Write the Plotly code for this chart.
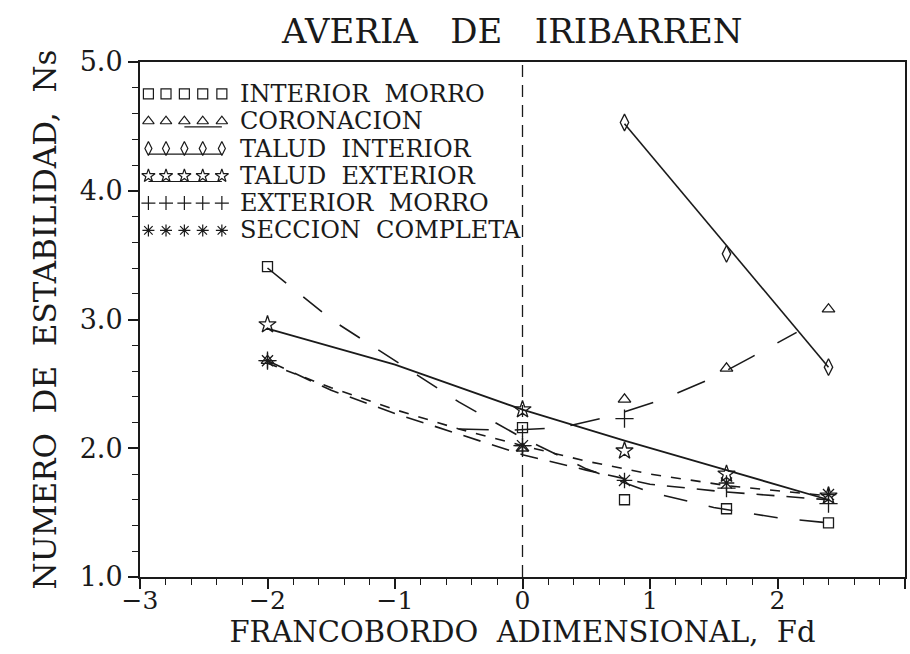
import plotly.graph_objects as go

# Fd values of the test series
fd = [-2.0, 0.0, 0.8, 1.6, 2.4]
fd_right = [0.8, 1.6, 2.4]

# Measured stability numbers Ns
ns_interior_morro = [3.41, 2.16, 1.60, 1.53, 1.42]
ns_coronacion = [2.68, 2.00, 2.38, 2.62, 3.08]
ns_talud_interior = [4.53, 3.51, 2.63]
ns_talud_exterior = [2.96, 2.30, 1.98, 1.80, 1.63]
ns_exterior_morro = [2.68, 2.02, 2.23, 1.69, 1.57]
ns_seccion_completa = [2.68, 2.02, 1.75, 1.73, 1.64]

# Fitted curves
fit_im_x = [-2.0, -1.5, -1.0, -0.5, 0.0, 0.5, 1.0, 1.5, 2.0, 2.4]
fit_im_y = [3.40, 3.00, 2.68, 2.36, 2.08, 1.84, 1.66, 1.54, 1.46, 1.42]
fit_co_x = [-0.5, -0.1, 0.3, 0.7, 1.1, 1.5, 1.8, 2.15]
fit_co_y = [2.15, 2.14, 2.16, 2.25, 2.38, 2.55, 2.71, 2.90]
fit_ti_x = [0.8, 2.4]
fit_ti_y = [4.52, 2.63]
fit_te_x = [-2.0, -1.0, 0.0, 0.8, 1.6, 2.4]
fit_te_y = [2.93, 2.65, 2.30, 2.06, 1.83, 1.60]
fit_em_x = [-2.0, -1.5, -1.0, -0.5, 0.0, 0.5, 1.0, 1.6, 2.4]
fit_em_y = [2.66, 2.47, 2.30, 2.15, 2.02, 1.90, 1.80, 1.71, 1.63]
fit_sc_x = [-2.0, -1.5, -1.0, -0.5, 0.0, 0.5, 1.0, 1.6, 2.4]
fit_sc_y = [2.68, 2.45, 2.27, 2.11, 1.95, 1.83, 1.72, 1.66, 1.60]

# Legend entries
labels = ["INTERIOR  MORRO", "CORONACION", "TALUD  INTERIOR",
          "TALUD  EXTERIOR", "EXTERIOR  MORRO", "SECCION  COMPLETA"]
symbols = ["square-open", "triangle-up-open", "diamond-tall-open",
           "star-open", "cross-thin-open", "asterisk-open"]

INK = "#1a1a1a"
FONT = "DejaVu Serif"

fig = go.Figure()

def curve(x, y, dash, width=1.6):
    fig.add_trace(go.Scatter(x=x, y=y, mode="lines",
                             line=dict(color=INK, width=width, dash=dash),
                             hoverinfo="skip"))

def points(x, y, symbol, size=11):
    fig.add_trace(go.Scatter(x=x, y=y, mode="markers",
                             marker=dict(symbol=symbol, size=size, color=INK,
                                         line=dict(color=INK, width=1.3))))

# zero free-board reference line
curve([0, 0], [1.0, 5.0], "12px,8px", 1.3)

curve(fit_im_x, fit_im_y, "24px,22px")
curve(fit_co_x, fit_co_y, "30px,26px")
curve(fit_ti_x, fit_ti_y, "solid")
curve(fit_te_x, fit_te_y, "solid", 1.8)
curve(fit_em_x, fit_em_y, "10px,10px")
curve(fit_sc_x, fit_sc_y, "18px,12px")

points(fd, ns_interior_morro, symbols[0], 10)
points(fd, ns_coronacion, symbols[1], 11)
points(fd_right, ns_talud_interior, symbols[2], 12)
points(fd, ns_talud_exterior, symbols[3], 13)
points(fd, ns_exterior_morro, symbols[4], 13)
points(fd, ns_seccion_completa, symbols[5], 13)

# Legend block drawn on an overlay axis spanning the plot area (0..1)
leg_x = [0.011, 0.034, 0.058, 0.082, 0.107]
leg_y = [0.938, 0.885, 0.832, 0.779, 0.726, 0.673]
for lab, sym, ly in zip(labels, symbols, leg_y):
    fig.add_trace(go.Scatter(x=leg_x, y=[ly] * len(leg_x), mode="markers",
                             xaxis="x2", yaxis="y2",
                             marker=dict(symbol=sym, size=10, color=INK,
                                         line=dict(color=INK, width=1.2)),
                             hoverinfo="skip"))
    fig.add_annotation(x=0.128, y=ly, xref="x2", yref="y2", text=lab,
                       showarrow=False, xanchor="left", yanchor="middle",
                       font=dict(family=FONT, size=24, color=INK))
# line samples under the symbols
for x0, x1, ly in [(0.058, 0.107, 0.874), (0.011, 0.107, 0.821), (0.011, 0.107, 0.768)]:
    fig.add_trace(go.Scatter(x=[x0, x1], y=[ly, ly], mode="lines", xaxis="x2", yaxis="y2",
                             line=dict(color=INK, width=1.2), hoverinfo="skip"))

fig.update_layout(
    width=910, height=654,
    margin=dict(l=140, r=3, t=62, b=77),
    paper_bgcolor="white", plot_bgcolor="white",
    showlegend=False,
    font=dict(family=FONT, color=INK),
    title=dict(text="AVERIA   DE   IRIBARREN", x=0.563, xanchor="center",
               y=0.953, yanchor="middle", font=dict(family=FONT, size=34, color=INK)),
    xaxis=dict(range=[-3, 3], dtick=1, tick0=-3, showgrid=False, zeroline=False,
               showline=True, linecolor=INK, linewidth=2, mirror=True,
               ticks="outside", ticklen=10, tickwidth=1.5, tickcolor=INK,
               ticklabelstandoff=-10,
               minor=dict(dtick=0.2, ticks="outside", ticklen=6, tickwidth=1.2, tickcolor=INK),
               tickfont=dict(family=FONT, size=25, color=INK),
               title=dict(text="FRANCOBORDO  ADIMENSIONAL,  Fd", standoff=2,
                          font=dict(family=FONT, size=29, color=INK))),
    yaxis=dict(range=[1, 5], dtick=1, tick0=1, tickformat=".1f", showgrid=False, zeroline=False,
               showline=True, linecolor=INK, linewidth=2, mirror=True,
               ticks="outside", ticklen=10, tickwidth=1.5, tickcolor=INK,
               minor=dict(dtick=0.2, ticks="outside", ticklen=6, tickwidth=1.2, tickcolor=INK),
               tickfont=dict(family=FONT, size=27, color=INK),
               title=dict(text="NUMERO  DE  ESTABILIDAD,  Ns", standoff=14,
                          font=dict(family=FONT, size=31, color=INK))),
    xaxis2=dict(range=[0, 1], overlaying="x", visible=False),
    yaxis2=dict(range=[0, 1], overlaying="y", visible=False),
)

fig.write_html("out.html")
